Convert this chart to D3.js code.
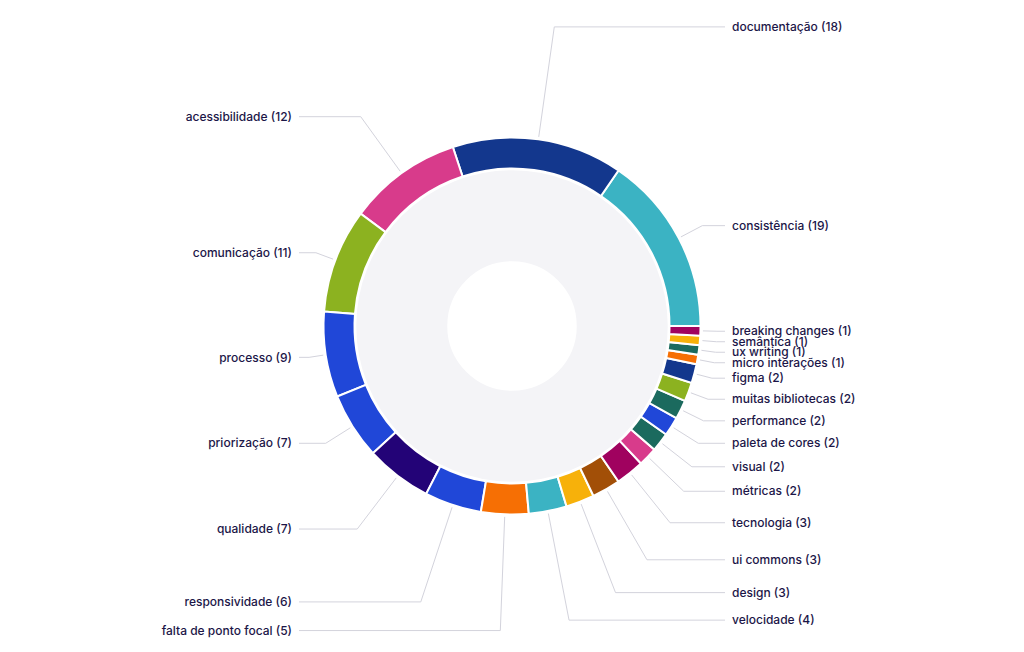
<!DOCTYPE html>
<html>
<head>
<meta charset="utf-8">
<script src="https://cdn.jsdelivr.net/npm/d3@7"></script>
<style>
  html, body { margin: 0; padding: 0; background: #ffffff; }
  svg { display: block; }
  text { font-family: Inter, "Noto Sans", sans-serif; }
</style>
</head>
<body>
<svg id="chart" width="1024" height="652"></svg>
<script>
const categories = [
  "consistência", "documentação", "acessibilidade", "comunicação", "processo",
  "priorização", "qualidade", "responsividade", "falta de ponto focal", "velocidade",
  "design", "ui commons", "tecnologia", "métricas", "visual", "paleta de cores",
  "performance", "muitas bibliotecas", "figma", "micro interações", "ux writing",
  "semântica", "breaking changes"
];
const values = [19, 18, 12, 11, 9, 7, 7, 6, 5, 4, 3, 3, 3, 2, 2, 2, 2, 2, 2, 1, 1, 1, 1];
const colors = [
  "#3bb3c3", "#13378d", "#d83b8b", "#8cb220", "#2047d8",
  "#2047d8", "#230377", "#2047d8", "#f66f04", "#3bb3c3",
  "#f7b10a", "#a24f07", "#a0025f", "#d83b8b", "#1b6a5e", "#2047d8",
  "#1b6a5e", "#8cb220", "#13378d", "#f66f04", "#1b6a5e",
  "#f7b10a", "#a0025f"
];

const data = categories.map((c, i) => ({ name: c, value: values[i], color: colors[i] }));

const W = 1024, H = 652;
const cx = 512, cy = 326;
const rHole = 64, rInner = 157.5, rOuter = 188.5;

const svg = d3.select("#chart");
const g = svg.append("g").attr("transform", `translate(${cx},${cy})`);

// inner grey disc
g.append("path")
  .attr("d", d3.arc().innerRadius(rHole).outerRadius(rInner - 1)({ startAngle: Math.PI / 2, endAngle: Math.PI / 2 - 2 * Math.PI }))
  .attr("fill", "#f4f4f7")
  .attr("stroke", "#ffffff")
  .attr("stroke-width", 1.5);

const pie = d3.pie().value(d => d.value).sort(null)
  .startAngle(Math.PI / 2).endAngle(Math.PI / 2 - 2 * Math.PI);
const arcs = pie(data);

const arc = d3.arc().innerRadius(rInner).outerRadius(rOuter);

g.selectAll("path.slice").data(arcs).enter().append("path")
  .attr("class", "slice")
  .attr("d", arc)
  .attr("fill", d => d.data.color)
  .attr("stroke", "#ffffff")
  .attr("stroke-width", 2);

// label layout
const lineR = 191, lineX = 213, textX = 220;
arcs.forEach(a => {
  const mid = (a.startAngle + a.endAngle) / 2; // d3 angle: clockwise from 12 o'clock
  const dx = Math.sin(mid), dy = -Math.cos(mid);
  const s = Math.abs(dy);
  a.side = dx >= 0 ? 1 : -1;
  a.ly = dy * (205 + 100 * s * s * s);
  a.sx = dx * lineR; a.sy = dy * lineR;
  const t = (a.ly - a.sy) / dy;
  a.bx = Math.abs(dy) > 1e-6 && t > 0 ? a.sx + dx * t : a.sx;
  a.by = a.ly;
});

// collision pass per side
[1, -1].forEach(side => {
  const items = arcs.filter(a => a.side === side).sort((p, q) => p.ly - q.ly);
  for (let i = 1; i < items.length; i++) {
    if (items[i].ly - items[i - 1].ly < 10.5) items[i].ly = items[i - 1].ly + 10.5;
  }
});

g.selectAll("path.leader").data(arcs).enter().append("path")
  .attr("class", "leader")
  .attr("d", a => d3.line()([[a.sx, a.sy], [a.bx, a.ly], [a.side * lineX, a.ly]]))
  .attr("fill", "none")
  .attr("stroke", "#d3d3dc")
  .attr("stroke-width", 1);

g.selectAll("text.lbl").data(arcs).enter().append("text")
  .attr("class", "lbl")
  .attr("x", a => a.side * textX)
  .attr("y", a => a.ly)
  .attr("dy", "0.35em")
  .attr("text-anchor", a => a.side > 0 ? "start" : "end")
  .attr("font-size", 12)
  .attr("font-weight", 500)
  .attr("fill", "#1c1648")
  .text(a => `${a.data.name} (${a.data.value})`);
</script>
</body>
</html>
